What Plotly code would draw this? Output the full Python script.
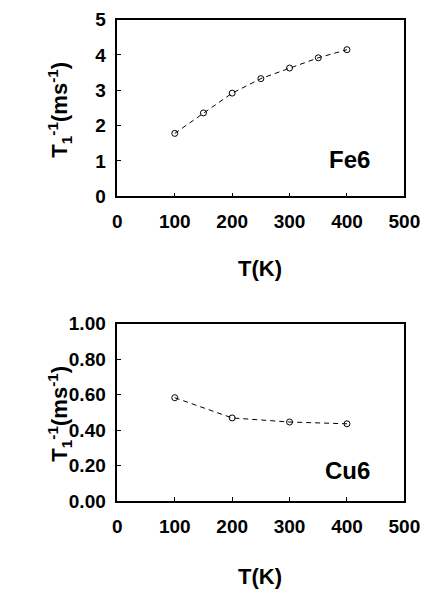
import plotly.graph_objects as go

# Data
fe6_T = [100, 150, 200, 250, 300, 350, 400]
fe6_rate = [1.78, 2.36, 2.92, 3.33, 3.63, 3.92, 4.15]
cu6_T = [100, 200, 300, 400]
cu6_rate = [0.583, 0.469, 0.446, 0.436]

x_ticks = [0, 100, 200, 300, 400, 500]
fe6_yticks = [0, 1, 2, 3, 4, 5]
cu6_yticks = [0.0, 0.2, 0.4, 0.6, 0.8, 1.0]

FONT = "Liberation Sans, Arial, sans-serif"
W, H = 438, 601

fig = go.Figure()
line_style = dict(color="black", width=1, dash="5px,4px")
marker_style = dict(symbol="circle-open", size=6, color="black", line=dict(width=1, color="black"))

fig.add_trace(go.Scatter(x=fe6_T, y=fe6_rate, mode="lines+markers", line=line_style,
                         marker=marker_style, xaxis="x", yaxis="y", showlegend=False))
fig.add_trace(go.Scatter(x=cu6_T, y=cu6_rate, mode="lines+markers", line=line_style,
                         marker=marker_style, xaxis="x2", yaxis="y2", showlegend=False))

def px_x(p):
    return p / W

def px_y(p):
    return 1 - p / H

xdom = [px_x(118), px_x(419.5)]
tickfont = dict(family=FONT, size=19, color="black", weight="bold")
common_axis = dict(showline=True, linecolor="black", linewidth=1.5, mirror=True,
                   ticks="inside", ticklen=4, tickwidth=1, tickcolor="black",
                   showgrid=False, zeroline=False, tickfont=tickfont)

fig.update_layout(
    width=W, height=H,
    margin=dict(l=0, r=0, t=0, b=0),
    paper_bgcolor="white", plot_bgcolor="white",
    xaxis=dict(domain=xdom, range=[0, 500], tickvals=x_ticks, anchor="y",
               ticklabelstandoff=7, **common_axis),
    yaxis=dict(domain=[px_y(193), px_y(10)], range=[0, 5], tickvals=fe6_yticks, anchor="x",
               ticklabelstandoff=6, **common_axis),
    xaxis2=dict(domain=xdom, range=[0, 500], tickvals=x_ticks, anchor="y2",
                ticklabelstandoff=7, **common_axis),
    yaxis2=dict(domain=[px_y(509), px_y(325)], range=[0, 1], tickvals=cu6_yticks, anchor="x2",
                tickformat=".2f", ticklabelstandoff=6, **common_axis),
)

title_font = dict(family=FONT, size=22, color="black", weight="bold")
ytitle = "T<sub>1</sub><sup>-1</sup>(ms<sup>-1</sup>)"
anns = [
    dict(text="T(K)", x=px_x(268), y=px_y(268), font=title_font),
    dict(text="T(K)", x=px_x(268), y=px_y(587), font=title_font),
    dict(text=ytitle, x=px_x(57), y=px_y(103), textangle=-90, font=title_font),
    dict(text=ytitle, x=px_x(57), y=px_y(418), textangle=-90, font=title_font),
    dict(text="Fe6", x=px_x(362), y=px_y(155), font=dict(family=FONT, size=24, color="black", weight="bold")),
    dict(text="Cu6", x=px_x(360), y=px_y(477), font=dict(family=FONT, size=24, color="black", weight="bold")),
]
for a in anns:
    fig.add_annotation(xref="paper", yref="paper", showarrow=False,
                       xanchor="center", yanchor="middle", **a)

fig.write_html("out.html", config={"displayModeBar": False},
               post_script="document.body.style.margin='0';document.body.style.overflow='hidden';")
